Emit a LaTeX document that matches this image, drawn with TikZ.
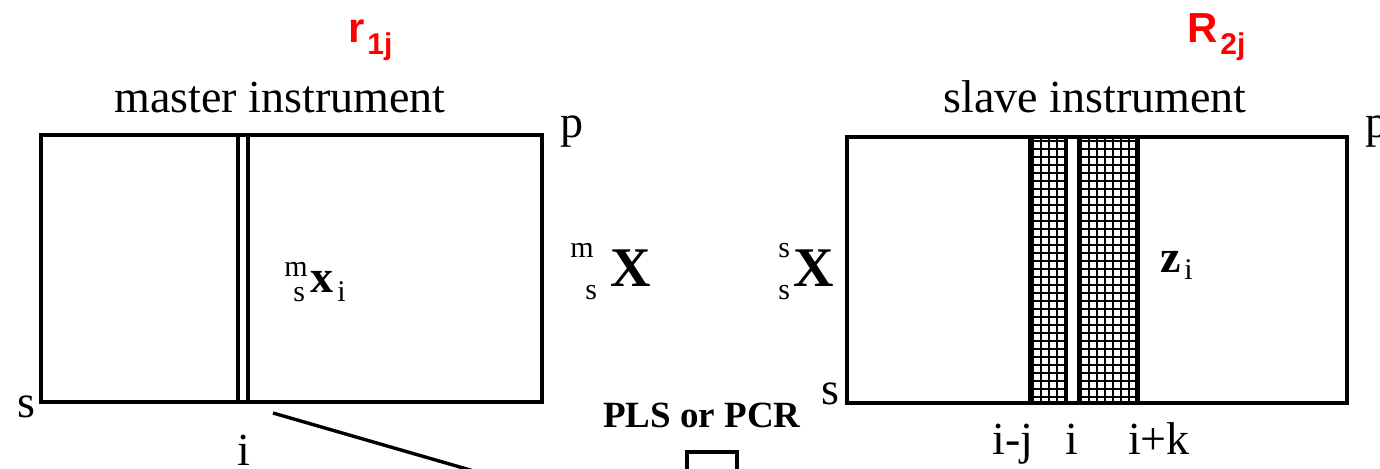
\documentclass[tikz,border=0pt]{standalone}
\usepackage{fontspec}
\setmainfont{Liberation Serif}
\newfontfamily\sansf{Liberation Sans}
\begin{document}
\begin{tikzpicture}[x=0.5pt,y=-0.5pt,
  frame/.style={line width=1.7pt},
  thickbar/.style={line width=2.4pt},
  hatch/.style={line width=0.75pt},
  txt/.style={inner sep=0pt, font=\fontsize{23}{27}\selectfont},
  sm/.style={inner sep=0pt, anchor=base west, font=\fontsize{15}{18}\selectfont},
  bigx/.style={inner sep=0pt, anchor=base west, font=\fontsize{28}{32}\selectfont\bfseries},
  midb/.style={inner sep=0pt, anchor=base west, font=\fontsize{23}{27}\selectfont\bfseries},
  redmain/.style={inner sep=0pt, anchor=base west, text=red, font=\sansf\bfseries\fontsize{21}{25}\selectfont},
  redsub/.style={inner sep=0pt, anchor=base west, text=red, font=\sansf\bfseries\fontsize{15}{18}\selectfont}]
\clip (0,0) rectangle (1380,469);
\fill[white] (0,0) rectangle (1380,469);

% red labels
\node[redmain] (r1) at (348,43) {r};
\node[redsub] (r1s) at (367,55) {1j};
\node[redmain] (R2) at (1187,43) {R};
\node[redsub] (R2s) at (1220,55) {2j};

% titles
\node[txt, anchor=base] (mt) at (280,113) {master instrument};
\node[txt, anchor=base] (st) at (1095,113) {slave instrument};

% master rectangle
\draw[frame] (41,135) rectangle (542,402);
\draw[frame] (238,135) -- (238,402);
\draw[frame] (248,135) -- (248,402);
\node[txt, anchor=base west] (p1) at (560,138) {p};
\node[txt, anchor=base west] (s1) at (17,418) {s};
\node[txt, anchor=base] (i1) at (244,466) {i};

% m s x i
\node[sm] (mxm) at (284,277) {m};
\node[sm] (mxs) at (293,302) {s};
\node[midb] (mxx) at (310,293) {x};
\node[sm] (mxi) at (337,302) {i};

% m s X
\node[sm] (mXm) at (570,258) {m};
\node[sm] (mXs) at (585,300) {s};
\node[bigx] (mX) at (610,287) {X};

% s s X
\node[sm] (sXm) at (778,258) {s};
\node[sm] (sXs) at (778,300) {s};
\node[bigx] (sX) at (793,287) {X};

% slave rectangle
\draw[frame] (847,137) rectangle (1347,403);
\begin{scope}
  \clip (1031,137) rectangle (1066,403);
  \foreach \x in {1033,1041,...,1070} \draw[hatch] (\x,137) -- (\x,403);
  \foreach \y in {141,149,...,405} \draw[hatch] (1031,\y) -- (1066,\y);
\end{scope}
\begin{scope}
  \clip (1079,137) rectangle (1138,403);
  \foreach \x in {1081,1089,...,1140} \draw[hatch] (\x,137) -- (\x,403);
  \foreach \y in {141,149,...,405} \draw[hatch] (1079,\y) -- (1138,\y);
\end{scope}
\draw[thickbar] (1030.5,137) -- (1030.5,403);
\draw[frame] (1066.5,137) -- (1066.5,403);
\draw[thickbar] (1079.5,137) -- (1079.5,403);
\draw[thickbar] (1137.5,137) -- (1137.5,403);

\node[txt, anchor=base west] (p2) at (1365,138) {p};
\node[txt, anchor=base west] (s2) at (821,405) {s};
\node[txt, anchor=base] (ij) at (1013,455) {i-j};
\node[txt, anchor=base] (ii) at (1072,455) {i};
\node[txt, anchor=base] (ik) at (1159,455) {i+k};

% z i
\node[midb] (zz) at (1160,273) {z};
\node[sm] (zi) at (1184,280) {i};

% PLS or PCR
\node[inner sep=0pt, anchor=base, font=\fontsize{18.5}{22}\selectfont\bfseries] (pls) at (702,428) {PLS or PCR};
\draw[frame] (687,452) rectangle (737,560);

% connector
\coordinate (d1) at (273,413);
\coordinate (d2) at (650,522);
\draw[frame] (d1) -- (d2);
\end{tikzpicture}
\end{document}
